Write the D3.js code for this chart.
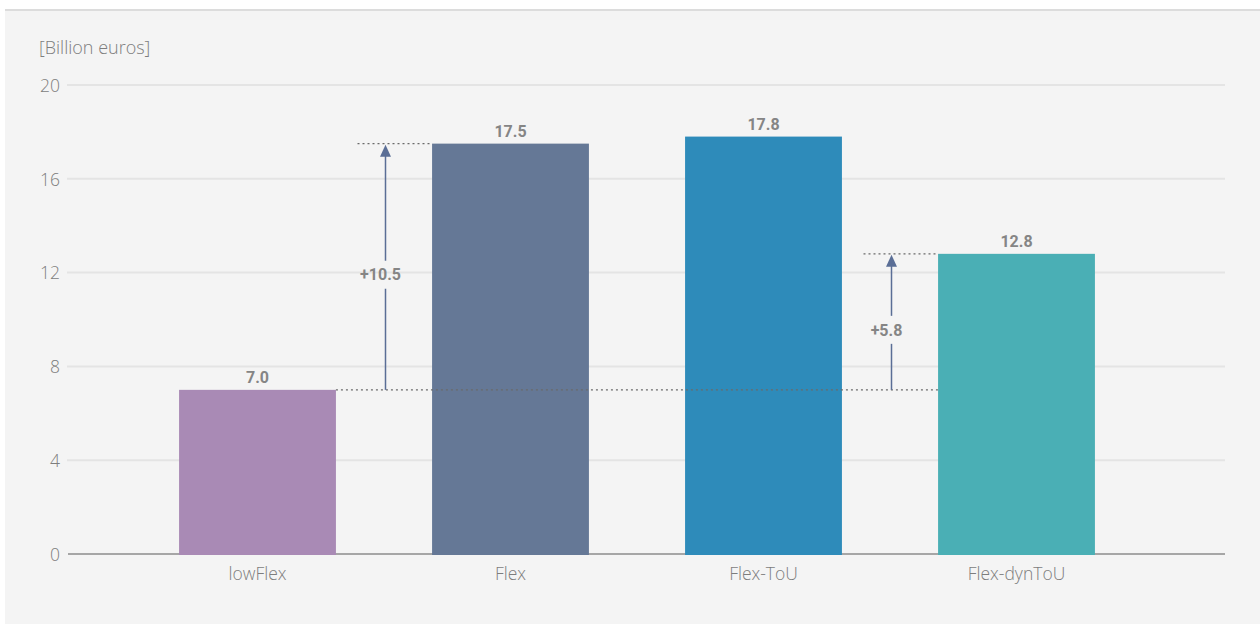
<!DOCTYPE html>
<html>
<head>
<meta charset="utf-8">
<script src="https://cdn.jsdelivr.net/npm/d3@7"></script>
<style>
  html, body { margin: 0; padding: 0; background: #ffffff; }
  svg { display: block; font-family: "Open Sans", Roboto, sans-serif; }
</style>
</head>
<body>
<svg id="chart" width="1260" height="624"></svg>
<script>
// ---- data ----
const categories = ["lowFlex", "Flex", "Flex-ToU", "Flex-dynToU"];
const values = [7.0, 17.5, 17.8, 12.8];
const valueLabels = ["7.0", "17.5", "17.8", "12.8"];
const barColors = ["#a98ab5", "#657896", "#2e8bba", "#4aafb5"];
const yTicks = [0, 4, 8, 12, 16, 20];
const unitLabel = "[Billion euros]";
// difference annotations: from category -> to category
const diffFrom = ["lowFlex", "lowFlex"];
const diffTo = ["Flex", "Flex-dynToU"];
const diffLabels = ["+10.5", "+5.8"];

// ---- setup ----
const W = 1260, H = 624;
const svg = d3.select("#chart");
const lightFont = "'Open Sans', sans-serif";
const boldFont = "Roboto, sans-serif";
const lightColor = "#7d7d7d";

svg.append("rect").attr("x", 5).attr("y", 10).attr("width", W - 5).attr("height", H - 10).attr("fill", "#f4f4f4");
svg.append("line").attr("x1", 5).attr("x2", W).attr("y1", 10).attr("y2", 10)
  .attr("stroke", "#dcdcdc").attr("stroke-width", 2);

const y = d3.scaleLinear().domain([0, 20]).range([554, 85]);
const x = d3.scaleBand().domain(categories).range([131, 1143]).paddingInner(0.38).paddingOuter(0.19);
const gridX0 = 67, gridX1 = 1225;

// gridlines
svg.append("g").selectAll("line").data(yTicks.filter(t => t !== 0)).join("line")
  .attr("x1", gridX0).attr("x2", gridX1)
  .attr("y1", d => y(d)).attr("y2", d => y(d))
  .attr("stroke", "#e4e4e4").attr("stroke-width", 2);

// y axis labels via d3 axis
const yAxis = d3.axisLeft(y).tickValues(yTicks).tickSize(0).tickPadding(0).tickFormat(d3.format("d"));
const gy = svg.append("g").attr("transform", "translate(60,0)").call(yAxis);
gy.select(".domain").remove();
gy.selectAll("text").attr("font-size", 17.5).attr("font-weight", 300).attr("fill", lightColor)
  .attr("font-family", lightFont).attr("dy", "0.36em");

// unit label
svg.append("text").attr("x", 39).attr("y", 54).text(unitLabel)
  .attr("font-family", lightFont)
  .attr("font-size", 18).attr("font-weight", 300).attr("fill", lightColor);

// baseline
svg.append("line").attr("x1", 68).attr("x2", gridX1).attr("y1", y(0)).attr("y2", y(0))
  .attr("stroke", "#8c8c8c").attr("stroke-width", 1.5);

// bars
svg.append("g").selectAll("rect").data(categories).join("rect")
  .attr("x", d => x(d)).attr("width", x.bandwidth())
  .attr("y", (d, i) => y(values[i])).attr("height", (d, i) => y(0) - y(values[i]) + 1)
  .attr("fill", (d, i) => barColors[i]);

// value labels
svg.append("g").selectAll("text").data(categories).join("text")
  .attr("x", d => x(d) + x.bandwidth() / 2).attr("y", (d, i) => y(values[i]) - 7)
  .attr("text-anchor", "middle").attr("font-family", boldFont)
  .attr("font-size", 16).attr("font-weight", 700).attr("fill", "#858585")
  .text((d, i) => valueLabels[i]);

// x axis labels via d3 axis
const xAxis = d3.axisBottom(x).tickSize(0).tickPadding(0);
const gx = svg.append("g").attr("transform", `translate(0,${y(0)})`).call(xAxis);
gx.select(".domain").remove();
gx.selectAll("text").attr("font-size", 17.5).attr("font-weight", 300).attr("fill", lightColor)
  .attr("font-family", lightFont).attr("y", 26).attr("dy", 0);

// annotations
const arrowColor = "#5a6e96";
const valOf = c => values[categories.indexOf(c)];
const ann = svg.append("g");

// dotted base line at lowFlex value, from lowFlex bar right edge to last target bar left
const baseCat = diffFrom[0];
const lastTo = diffTo[diffTo.length - 1];
ann.append("line")
  .attr("x1", x(baseCat) + x.bandwidth()).attr("x2", x(lastTo))
  .attr("y1", y(valOf(baseCat))).attr("y2", y(valOf(baseCat)))
  .attr("stroke", "#6a6a6a").attr("stroke-width", 1.2).attr("stroke-dasharray", "2,3");

diffTo.forEach((to, i) => {
  const from = diffFrom[i];
  const toIdx = categories.indexOf(to);
  const prev = categories[toIdx - 1];
  const ax = (x(prev) + x.bandwidth() + x(to)) / 2 + 1.5;
  const yFrom = y(valOf(from)), yTo = y(valOf(to));
  // dotted top line
  ann.append("line").attr("x1", ax - 28).attr("x2", x(to))
    .attr("y1", yTo).attr("y2", yTo)
    .attr("stroke", "#6a6a6a").attr("stroke-width", 1.2).attr("stroke-dasharray", "2,3");
  const mid = (yFrom + yTo) / 2;
  const labelY = mid + 8;
  // arrow line with gap for label
  ann.append("line").attr("x1", ax).attr("x2", ax).attr("y1", yTo + 10).attr("y2", labelY - 14)
    .attr("stroke", arrowColor).attr("stroke-width", 1.5);
  ann.append("line").attr("x1", ax).attr("x2", ax).attr("y1", labelY + 14).attr("y2", yFrom)
    .attr("stroke", arrowColor).attr("stroke-width", 1.5);
  // arrow head
  ann.append("path")
    .attr("d", `M${ax},${yTo + 1} L${ax - 5.5},${yTo + 13} L${ax + 5.5},${yTo + 13} Z`)
    .attr("fill", arrowColor);
  ann.append("text").attr("x", ax - 5).attr("y", labelY).attr("dy", "0.36em")
    .attr("text-anchor", "middle").attr("font-family", boldFont)
    .attr("font-size", 16).attr("font-weight", 700).attr("fill", "#858585")
    .text(diffLabels[i]);
});
</script>
</body>
</html>
